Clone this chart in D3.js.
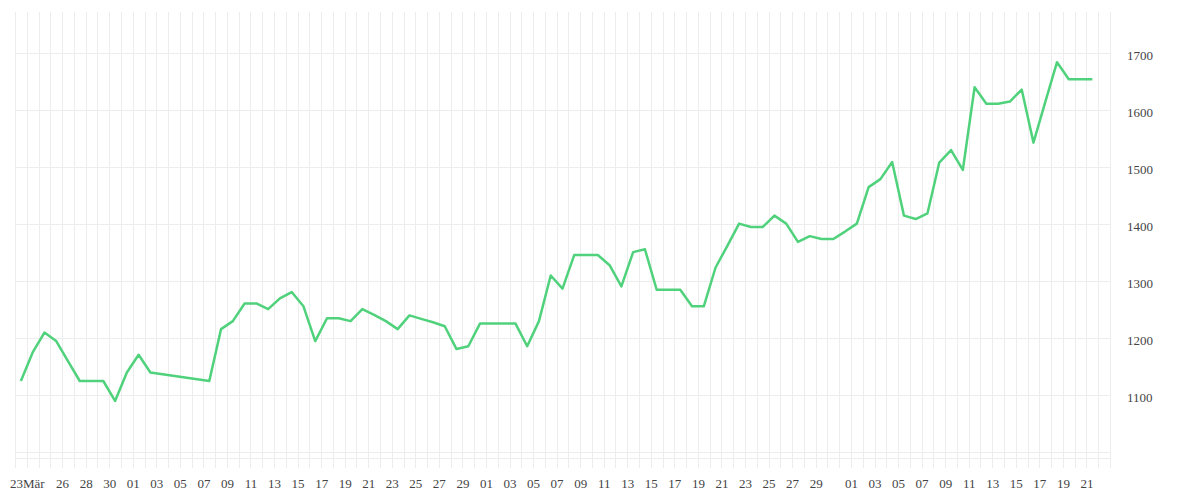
<!DOCTYPE html>
<html>
<head>
<meta charset="utf-8">
<script src="https://cdnjs.cloudflare.com/ajax/libs/d3/7.8.5/d3.min.js"></script>
<style>
  body { margin: 0; background: #fff; }
  .axis text { font-family: "Liberation Serif", serif; font-size: 13px; fill: #444; }
  .grid line { stroke: #ededed; stroke-width: 1; shape-rendering: crispEdges; }
</style>
</head>
<body>
<div id="chart"></div>
<script>
// daily values (month-day), a few days are missing in early April
var dates = [
  "03-22", "03-23", "03-24", "03-25", "03-26", "03-27", "03-28", "03-29", "03-30", "03-31",
  "04-01", "04-02", "04-07", "04-08", "04-09", "04-10", "04-11", "04-12", "04-13", "04-14",
  "04-15", "04-16", "04-17", "04-18", "04-19", "04-20", "04-21", "04-22", "04-23", "04-24",
  "04-25", "04-26", "04-27", "04-28", "04-29", "04-30", "05-01", "05-02", "05-03", "05-04",
  "05-05", "05-06", "05-07", "05-08", "05-09", "05-10", "05-11", "05-12", "05-13", "05-14",
  "05-15", "05-16", "05-17", "05-18", "05-19", "05-20", "05-21", "05-22", "05-23", "05-24",
  "05-25", "05-26", "05-27", "05-28", "05-29", "05-30", "05-31", "06-01", "06-02", "06-03",
  "06-04", "06-05", "06-06", "06-07", "06-08", "06-09", "06-10", "06-11", "06-12", "06-13",
  "06-14", "06-15", "06-16", "06-17", "06-18", "06-19", "06-20", "06-21"
];

var values = [
  1125, 1175, 1210, 1195, 1160, 1125, 1125, 1125, 1090, 1140,
  1171, 1140, 1125, 1216, 1230, 1261, 1261, 1251, 1270, 1281,
  1256, 1195, 1235, 1235, 1230, 1251, 1241, 1230, 1216, 1240,
  1234, 1228, 1221, 1181, 1186, 1226, 1226, 1226, 1226, 1186,
  1230, 1310, 1287, 1346, 1346, 1346, 1328, 1291, 1351, 1356,
  1285, 1285, 1285, 1256, 1256, 1324, 1362, 1401, 1395, 1395,
  1415, 1401, 1369, 1379, 1374, 1374, 1387, 1401, 1465, 1479,
  1509, 1415, 1409, 1419, 1508, 1530, 1495, 1640, 1611, 1611,
  1615, 1636, 1543, 1614, 1684, 1654, 1654, 1654
];

var tickDates = [
  "03-23", "03-26", "03-28", "03-30",
  "04-01", "04-03", "04-05", "04-07", "04-09", "04-11", "04-13", "04-15",
  "04-17", "04-19", "04-21", "04-23", "04-25", "04-27", "04-29",
  "05-01", "05-03", "05-05", "05-07", "05-09", "05-11", "05-13", "05-15",
  "05-17", "05-19", "05-21", "05-23", "05-25", "05-27", "05-29",
  "06-01", "06-03", "06-05", "06-07", "06-09", "06-11", "06-13", "06-15",
  "06-17", "06-19", "06-21"
];

var tickLabels = [
  "23Mär", "26", "28", "30",
  "01", "03", "05", "07", "09", "11", "13", "15",
  "17", "19", "21", "23", "25", "27", "29",
  "01", "03", "05", "07", "09", "11", "13", "15",
  "17", "19", "21", "23", "25", "27", "29",
  "01", "03", "05", "07", "09", "11", "13", "15",
  "17", "19", "21"
];

var yGridValues = [1000, 1100, 1200, 1300, 1400, 1500, 1600, 1700];
var yLabelValues = [1100, 1200, 1300, 1400, 1500, 1600, 1700];

var year = "2021-";
var firstDay = "03-22";
var lastDay = "06-23";

// Define SVG area dimensions
var svgWidth = 1200;
var svgHeight = 500;

// plot box inside the svg
var plot = {
  left: 15,
  right: 1110,
  top: 12,
  bottom: 458
};

var parseDate = d3.utcParse("%Y-%m-%d");

var data = dates.map(function(d, i) {
  return { date: parseDate(year + d), value: values[i] };
});

var svg = d3.select("#chart").append("svg")
  .attr("width", svgWidth)
  .attr("height", svgHeight);

var xScale = d3.scaleUtc()
  .domain([parseDate(year + firstDay), parseDate(year + lastDay)])
  .range([plot.left, plot.right]);

var yScale = d3.scaleLinear()
  .domain([990, 1772])
  .range([plot.bottom, plot.top]);

// vertical grid, one line per day, running a bit below the plot
var allDays = d3.utcDay.range(xScale.domain()[0], d3.utcDay.offset(xScale.domain()[1], 1));

svg.append("g")
  .attr("class", "grid")
  .attr("transform", `translate(0, ${plot.bottom + 10})`)
  .call(d3.axisBottom(xScale)
    .tickValues(allDays)
    .tickSize(-(plot.bottom + 10 - plot.top))
    .tickFormat(""))
  .call(g => g.select(".domain").remove());

// horizontal grid
svg.append("g")
  .attr("class", "grid")
  .attr("transform", `translate(${plot.right}, 0)`)
  .call(d3.axisLeft(yScale)
    .tickValues(yGridValues)
    .tickSize(plot.right - plot.left)
    .tickFormat(""))
  .call(g => g.select(".domain").remove());

// bottom edge of the plot
svg.append("g")
  .attr("class", "grid")
  .append("line")
  .attr("x1", plot.left)
  .attr("x2", plot.right)
  .attr("y1", plot.bottom)
  .attr("y2", plot.bottom);

// x labels
var tickParsed = tickDates.map(d => parseDate(year + d));

svg.append("g")
  .attr("class", "axis")
  .attr("transform", `translate(0, ${plot.bottom + 10})`)
  .call(d3.axisBottom(xScale)
    .tickValues(tickParsed)
    .tickSize(0)
    .tickPadding(11)
    .tickFormat((d, i) => tickLabels[i]))
  .call(g => g.select(".domain").remove());

// y labels on the right
svg.append("g")
  .attr("class", "axis")
  .attr("transform", `translate(${plot.right}, 0)`)
  .call(d3.axisRight(yScale)
    .tickValues(yLabelValues)
    .tickSize(0)
    .tickPadding(17)
    .tickFormat(d3.format("d")))
  .call(g => g.select(".domain").remove())
  .selectAll("text")
  .attr("dy", "0.5em");

// the line, points sit in the middle of each day
var line = d3.line()
  .x(d => xScale(d3.utcHour.offset(d.date, 12)))
  .y(d => yScale(d.value));

svg.append("path")
  .datum(data)
  .attr("fill", "none")
  .attr("stroke", "#50d27c")
  .attr("stroke-width", 2.5)
  .attr("stroke-linejoin", "round")
  .attr("d", line);
</script>
</body>
</html>
